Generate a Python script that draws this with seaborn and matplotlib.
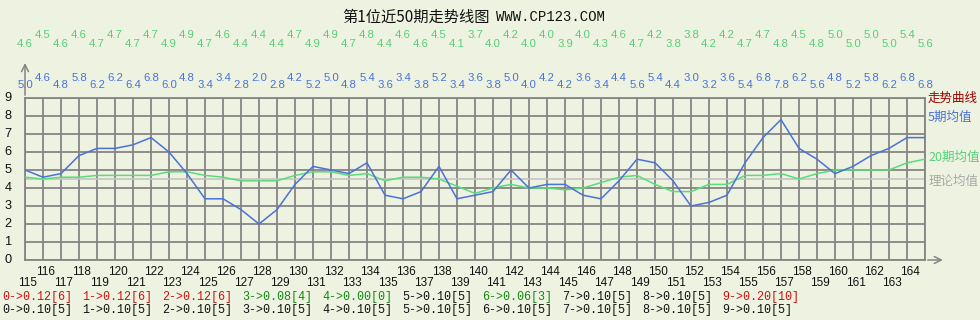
import matplotlib
matplotlib.use("Agg")
import matplotlib.pyplot as plt
import seaborn as sns
import pandas as pd

# ---------------- data ----------------
periods = list(range(115, 165))  # x tick labels 115..164
avg20 = [4.6, 4.5, 4.6, 4.6, 4.7, 4.7, 4.7, 4.7, 4.9, 4.9, 4.7, 4.6, 4.4, 4.4, 4.4, 4.7, 4.9,
         4.9, 4.7, 4.8, 4.4, 4.6, 4.6, 4.5, 4.1, 3.7, 4.0, 4.2, 4.0, 4.0, 3.9, 4.0, 4.3, 4.6,
         4.7, 4.2, 3.8, 3.8, 4.2, 4.2, 4.7, 4.7, 4.8, 4.5, 4.8, 5.0, 5.0, 5.0, 5.0, 5.4, 5.6]
avg5 = [5.0, 4.6, 4.8, 5.8, 6.2, 6.2, 6.4, 6.8, 6.0, 4.8, 3.4, 3.4, 2.8, 2.0, 2.8, 4.2, 5.2,
        5.0, 4.8, 5.4, 3.6, 3.4, 3.8, 5.2, 3.4, 3.6, 3.8, 5.0, 4.0, 4.2, 4.2, 3.6, 3.4, 4.4,
        5.6, 5.4, 4.4, 3.0, 3.2, 3.6, 5.4, 6.8, 7.8, 6.2, 5.6, 4.8, 5.2, 5.8, 6.2, 6.8, 6.8]
theory_avg = 4.5
y_ticks = list(range(0, 10))
legend_labels = ["走势曲线", "5期均值", "20期均值", "理论均值"]
stats_row1 = ["0->0.12[6]", "1->0.12[6]", "2->0.12[6]", "3->0.08[4]", "4->0.00[0]",
              "5->0.10[5]", "6->0.06[3]", "7->0.10[5]", "8->0.10[5]", "9->0.20[10]"]
stats_row1_kind = ["hot", "hot", "hot", "cold", "cold", "norm", "cold", "norm", "norm", "hot"]
stats_row2 = ["0->0.10[5]", "1->0.10[5]", "2->0.10[5]", "3->0.10[5]", "4->0.10[5]",
              "5->0.10[5]", "6->0.10[5]", "7->0.10[5]", "8->0.10[5]", "9->0.10[5]"]
title_cn = "第1位近50期走势线图"
title_url = "WWW.CP123.COM"

# ---------------- style ----------------
BG = "#EEF3E1"
GRID = "#858585"
BLUE = "#4A72D8"
GREEN = "#5ADC7A"
GREEN_TXT = "#55CF78"
GRAY_TXT = "#A8A8A8"
GRAY_LINE = "#C4C4C4"
kind_color = {"hot": "#CC1010", "cold": "#118811", "norm": "#111111"}

sns.set_style("white")
plt.rcParams["font.family"] = ["Liberation Sans", "Noto Sans CJK SC", "DejaVu Sans"]

W, H = 980, 320
fig = plt.figure(figsize=(W / 100, H / 100), dpi=100, facecolor=BG)
x0, x1, y0, y1 = 25, 925, 260, 98
ax = fig.add_axes([x0 / W, 1 - y0 / H, (x1 - x0) / W, (y0 - y1) / H])
ax.set_facecolor(BG)

n = len(avg5)
pos = list(range(n))
df = pd.DataFrame({"pos": pos, "avg5": avg5, "avg20": avg20})

ax.set_xlim(0, n - 1)
ax.set_ylim(0, 9)
ax.set_xticks(pos)
ax.set_yticks(y_ticks)
ax.tick_params(length=0, labelbottom=False, labelleft=False)
ax.grid(True, color=GRID, lw=1.3)
ax.set_axisbelow(True)
for s in ax.spines.values():
    s.set_color(GRID)
    s.set_linewidth(1.3)

ax.axhline(theory_avg, color=GRAY_LINE, lw=1.2, zorder=2)
sns.lineplot(data=df, x="pos", y="avg20", color=GREEN, lw=1.1, ax=ax, zorder=3)
sns.lineplot(data=df, x="pos", y="avg5", color=BLUE, lw=1.1, ax=ax, zorder=4)
ax.set_xlabel("")
ax.set_ylabel("")

# axis arrows
ax.annotate("", xy=(0, 11.1), xytext=(0, 9), xycoords="data",
            arrowprops=dict(arrowstyle="->,head_length=0.5,head_width=0.25", color=GRID, lw=1.1),
            annotation_clip=False)
ax.annotate("", xy=(n - 1 + 1.15, 0), xytext=(n - 1, 0), xycoords="data",
            arrowprops=dict(arrowstyle="->,head_length=0.5,head_width=0.25", color=GRID, lw=1.1),
            annotation_clip=False)

# y labels
for v in y_ticks:
    ax.text(-0.94, v, str(v), ha="center", va="center", fontsize=9.2, color="#111111", clip_on=False)

# x labels (two staggered rows)
for i, p in enumerate(periods):
    yy = -0.67 if i % 2 == 1 else -1.25
    ax.text(i + 0.15, yy, str(p), ha="center", va="center", fontsize=8.5, color="#111111", clip_on=False)

# top value labels
for i in range(n):
    hi = i % 2 == 1
    ax.text(i, 12.5 if hi else 12.0, f"{avg20[i]:.1f}", ha="center", va="center",
            fontsize=8.2, color=GREEN_TXT, clip_on=False)
    ax.text(i, 10.1 if hi else 9.72, f"{avg5[i]:.1f}", ha="center", va="center",
            fontsize=8.2, color=BLUE, clip_on=False)

# right legend labels
leg_y = [9.0, 7.94, 5.72, 4.39]
leg_c = ["#A00000", BLUE, GREEN_TXT, GRAY_TXT]
for lab, yy, c in zip(legend_labels, leg_y, leg_c):
    ax.text(n - 1 + 0.17, yy, lab, ha="left", va="center", fontsize=9, color=c,
            family=["Noto Sans CJK SC", "DejaVu Sans"], clip_on=False)

# title (Chinese part + monospace URL)
fig.text(342 / W, 1 - 17 / H, title_cn, ha="left", va="center", fontsize=11, color="#111111",
         family=["Noto Sans CJK SC", "DejaVu Sans"])
fig.text(605 / W, 1 - 17 / H, title_url, ha="right", va="center", fontsize=10, color="#111111",
         family=["Liberation Mono", "DejaVu Sans Mono"])

# bottom statistics rows
for k in range(10):
    xx = (2 + 80 * k) / W
    fig.text(xx, 1 - 297 / H, stats_row1[k], ha="left", va="center", fontsize=8.5,
             color=kind_color[stats_row1_kind[k]], family=["Liberation Mono", "DejaVu Sans Mono"])
    fig.text(xx, 1 - 309.5 / H, stats_row2[k], ha="left", va="center", fontsize=8.5,
             color="#111111", family=["Liberation Mono", "DejaVu Sans Mono"])

fig.savefig("out.png", dpi=100, facecolor=BG)
